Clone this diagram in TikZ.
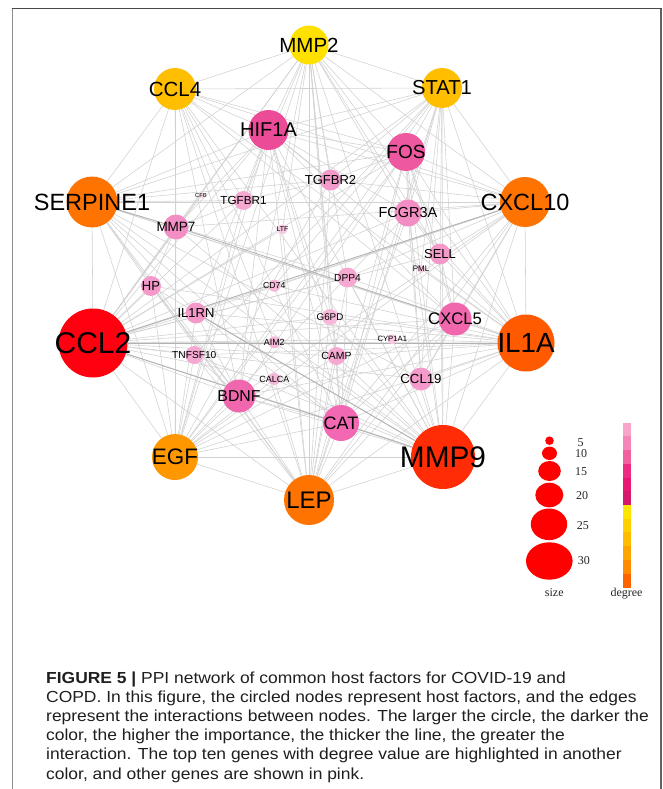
\documentclass[tikz,border=0pt]{standalone}
\usepackage{fontspec}
\setmainfont{Liberation Sans}
\newfontfamily\legendfont{Liberation Serif}
\newfontfamily\capfont{Liberation Sans}[FakeStretch=1.09]
\usetikzlibrary{backgrounds}

% node palette
\definecolor{cMMPtwo}{HTML}{FFE100}
\definecolor{cAmber}{HTML}{FFBE00}
\definecolor{cEGF}{HTML}{FF9800}
\definecolor{cOrange}{HTML}{FF7400}
\definecolor{cILA}{HTML}{FF5A00}
\definecolor{cMMPnine}{HTML}{FF2C05}
\definecolor{cRed}{HTML}{FF0010}
\definecolor{cHIF}{HTML}{EC4C97}
\definecolor{cFOS}{HTML}{EE58A0}
\definecolor{cCAT}{HTML}{F268B2}
\definecolor{cBDNF}{HTML}{F067AE}
\definecolor{cPa}{HTML}{F28EC3}
\definecolor{cPb}{HTML}{F49ACA}
\definecolor{cPc}{HTML}{F5A8D0}
\definecolor{cPd}{HTML}{F5B8D9}
\definecolor{cPe}{HTML}{F7C8E2}
\definecolor{cPf}{HTML}{F8D6E9}
% degree bar palette
\definecolor{barA}{HTML}{F9A5CA}
\definecolor{barB}{HTML}{F685B9}
\definecolor{barC}{HTML}{F2609F}
\definecolor{barD}{HTML}{EE2A82}
\definecolor{barE}{HTML}{EA1674}
\definecolor{barF}{HTML}{D5186A}
\definecolor{barG}{HTML}{FFE600}
\definecolor{barH}{HTML}{FFD000}
\definecolor{barI}{HTML}{FFBC00}
\definecolor{barJ}{HTML}{FFA500}
\definecolor{barK}{HTML}{FF8C00}
\definecolor{barL}{HTML}{FF6400}

\tikzset{
  genenode/.style={circle, draw=none, inner sep=0pt, outer sep=0pt},
  genelabel/.style={inner sep=0pt, text=black},
  link/.style={draw=black!18, line width=0.55pt},
  strong/.style={draw=black!30, line width=0.8pt},
  legendtext/.style={inner sep=0pt, font=\legendfont\fontsize{12}{12}\selectfont, text=black!85},
  captionline/.style={inner sep=0pt, anchor=base west, font=\capfont\fontsize{16}{19}\selectfont, text=black!88},
}

% name, x, y, diameter, fill, font size, text
\newcommand\gene[7]{%
  \node[genenode, fill=#5, minimum size=#4pt,
        label={[genelabel, font=\fontsize{#6}{#6}\selectfont]center:#7}] (#1) at (#2,#3) {};}

\begin{document}
\begin{tikzpicture}[x=1pt, y=-1pt]
\useasboundingbox (0,0) rectangle (663,789);

% ---- genes: hubs (top ten by degree) ----
\gene{MMP2}{309}{45}{39}{cMMPtwo}{20.5}{MMP2}
\gene{CCL4}{175}{89}{42}{cAmber}{20.5}{CCL4}
\gene{STAT1}{442}{88}{40}{cAmber}{20.2}{STAT1}
\gene{SERPINE1}{92}{202}{51}{cOrange}{23.5}{SERPINE1}
\gene{CXCL10}{525}{202}{50}{cOrange}{23.5}{CXCL10}
\gene{CCL2}{93}{343}{69}{cRed}{30}{CCL2}
\gene{IL1A}{526}{343}{57}{cILA}{27.7}{IL1A}
\gene{EGF}{175}{457}{46}{cEGF}{22.4}{EGF}
\gene{MMP9}{443}{457}{64}{cMMPnine}{29.8}{MMP9}
\gene{LEP}{309}{500}{50}{cOrange}{24}{LEP}

% ---- genes: the others ----
\gene{HIF1A}{268.5}{130}{40}{cHIF}{20}{HIF1A}
\gene{FOS}{406}{152}{38}{cFOS}{19}{FOS}
\gene{TGFBR2}{330.5}{180}{21}{cPb}{13}{TGFBR2}
\gene{TGFBR1}{243.5}{200.5}{19}{cPc}{11.7}{TGFBR1}
\gene{CFB}{201}{196}{5}{cPf}{5.8}{CFB}
\gene{FCGR3A}{408}{213}{27}{cPa}{14.5}{FCGR3A}
\gene{MMP7}{176}{227}{25}{cPa}{13.5}{MMP7}
\gene{LTF}{282.5}{229.3}{10}{cPe}{7}{LTF}
\gene{SELL}{440}{254}{21}{cPb}{13}{SELL}
\gene{PML}{421}{269}{8}{cPe}{8}{PML}
\gene{DPP4}{347.5}{277.5}{20}{cPc}{10.2}{DPP4}
\gene{CD74}{274.3}{285.7}{12}{cPd}{8.7}{CD74}
\gene{HP}{151}{286}{20}{cPb}{13}{HP}
\gene{IL1RN}{196}{313}{21}{cPb}{13}{IL1RN}
\gene{G6PD}{330}{317}{16}{cPd}{9.8}{G6PD}
\gene{CXCL5}{455}{319}{33}{cBDNF}{16.7}{CXCL5}
\gene{AIM2}{274.3}{342.3}{12}{cPd}{8.9}{AIM2}
\gene{CYP1A1}{392.3}{339.3}{10}{cPe}{7.7}{CYP1A1}
\gene{TNFSF10}{194.3}{355}{18}{cPc}{10.2}{TNFSF10}
\gene{CAMP}{336.5}{356}{18}{cPc}{10.4}{CAMP}
\gene{CALCA}{274.3}{379}{12}{cPd}{9}{CALCA}
\gene{CCL19}{421}{379}{23}{cPb}{13.2}{CCL19}
\gene{BDNF}{239}{396}{33}{cBDNF}{15.8}{BDNF}
\gene{CAT}{341}{423}{36}{cCAT}{18}{CAT}

% ---- interactions, under the genes ----
\begin{pgfonlayer}{background}
\fill[white] (0,0) rectangle (663,789);
% hub to hub
\foreach \h/\targets in {
  MMP2/{CCL4,STAT1,SERPINE1,CXCL10,CCL2,IL1A,EGF,LEP,MMP9},
  CCL4/{STAT1,SERPINE1,CXCL10,CCL2,IL1A,EGF,LEP,MMP9},
  STAT1/{SERPINE1,CXCL10,CCL2,IL1A,EGF,LEP,MMP9},
  SERPINE1/{CXCL10,CCL2,IL1A,EGF,LEP,MMP9},
  CXCL10/{CCL2,IL1A,EGF,LEP,MMP9},
  CCL2/{IL1A,EGF,LEP,MMP9},
  IL1A/{EGF,LEP,MMP9},
  EGF/{LEP,MMP9},
  LEP/{MMP9}}
  {\foreach \t in \targets {\draw[link] (\h) -- (\t);}}
% hubs to the other genes
\foreach \h/\targets in {
  MMP2/{HIF1A,FOS,CAT,BDNF,FCGR3A,MMP7,SELL,TGFBR2,DPP4,TGFBR1,CAMP,G6PD,LTF},
  CCL4/{HIF1A,FOS,CAT,CXCL5,BDNF,MMP7,TGFBR1,AIM2},
  STAT1/{HIF1A,FOS,CAT,CXCL5,FCGR3A,CCL19,SELL,TGFBR2,TNFSF10,CD74,PML},
  SERPINE1/{HIF1A,FOS,CAT,CXCL5,BDNF,CCL19,TGFBR2,IL1RN,HP,DPP4,TGFBR1},
  CXCL10/{HIF1A,FOS,CAT,CXCL5,BDNF,FCGR3A,MMP7,CCL19,SELL,TGFBR2,IL1RN,DPP4,CD74},
  CCL2/{HIF1A,FOS,CAT,CXCL5,BDNF,FCGR3A,MMP7,CCL19,SELL,IL1RN,HP,DPP4,TGFBR1,TNFSF10,CAMP,G6PD,CD74,AIM2,CALCA,LTF,CYP1A1,CFB},
  IL1A/{HIF1A,FOS,CAT,CXCL5,BDNF,FCGR3A,CCL19,SELL,IL1RN,HP,DPP4,TNFSF10,CAMP,G6PD,CD74,AIM2,CYP1A1,PML},
  EGF/{HIF1A,FOS,CAT,CXCL5,BDNF,FCGR3A,MMP7,TGFBR2,IL1RN,HP,TGFBR1,TNFSF10,CAMP,CALCA},
  LEP/{HIF1A,FOS,CAT,CXCL5,BDNF,FCGR3A,CCL19,TGFBR2,HP,DPP4,TNFSF10,CAMP,G6PD,CALCA,LTF},
  MMP9/{HIF1A,FOS,CAT,CXCL5,BDNF,FCGR3A,MMP7,CCL19,SELL,IL1RN,HP,DPP4,TNFSF10,CAMP,G6PD,AIM2,CALCA,CYP1A1}}
  {\foreach \t in \targets {\draw[link] (\h) -- (\t);}}
% among the other genes
\foreach \h/\targets in {
  HIF1A/{FOS,CAT,BDNF,CXCL5,FCGR3A,MMP7,TGFBR2,TGFBR1,IL1RN,CAMP,G6PD},
  FOS/{CAT,CXCL5,BDNF,FCGR3A,SELL,CCL19,TGFBR2},
  CAT/{BDNF,CXCL5,IL1RN,CAMP,DPP4},
  CXCL5/{CCL19,SELL},
  BDNF/{IL1RN,TNFSF10,HP},
  FCGR3A/{SELL,CCL19},
  MMP7/{TGFBR1,HP},
  TGFBR2/{TGFBR1}}
  {\foreach \t in \targets {\draw[link] (\h) -- (\t);}}
% the heavier interactions
\foreach \a/\b in {SERPINE1/MMP7, MMP7/CXCL5, CXCL10/CCL2, CCL2/MMP9, CCL2/IL1A, IL1RN/MMP9}
  {\draw[strong] (\a) -- (\b);}
\end{pgfonlayer}

% ---- size legend ----
\fill[red] (549.5,440.7) ellipse [x radius=4.3, y radius=4.3];
\fill[red] (549.5,453.3) ellipse [x radius=7.5, y radius=6.7];
\fill[red] (549.5,471) ellipse [x radius=11.3, y radius=10];
\fill[red] (549.3,495) ellipse [x radius=14, y radius=12.3];
\fill[red] (549,524.3) ellipse [x radius=18.2, y radius=15.8];
\fill[red] (549.3,561) ellipse [x radius=23.3, y radius=18.7];
\node[legendtext, anchor=west] (s5) at (577.3,442.3) {5};
\node[legendtext, anchor=west] (s10) at (575,454) {10};
\node[legendtext, anchor=west] (s15) at (575,472) {15};
\node[legendtext, anchor=west] (s20) at (576,495.7) {20};
\node[legendtext, anchor=west] (s25) at (576.7,526) {25};
\node[legendtext, anchor=west] (s30) at (577.7,561) {30};
\node[legendtext] (sizetitle) at (554.3,592.7) {size};

% ---- degree legend ----
\foreach \c [count=\i from 0] in {barA,barB,barC,barD,barE,barF,barG,barH,barI,barJ,barK,barL}
  \fill[\c] (623.3,422.7+\i*13.72) rectangle (630.7,422.7+\i*13.72+13.9);
\node[legendtext] (degreetitle) at (626.5,594) {degree};

% ---- panel frame ----
\draw[black!45, line width=1.6pt] (12.3,789) -- (12.3,8.7);
\draw[black!62, line width=1.4pt] (660.8,8.7) -- (660.8,789);
\draw[black!72, line width=1.6pt] (11.5,8.7) -- (661.5,8.7);

% ---- caption ----
\node[captionline] (cap1) at (46,683) {\textbf{FIGURE 5 |} PPI network of common host factors for COVID-19 and};
\node[captionline] (cap2) at (46,702.2) {COPD. In this figure, the circled nodes represent host factors, and the edges};
\node[captionline] (cap3) at (46,721.4) {represent the interactions between nodes. The larger the circle, the darker the};
\node[captionline] (cap4) at (46,740.6) {color, the higher the importance, the thicker the line, the greater the};
\node[captionline] (cap5) at (46,759.8) {interaction. The top ten genes with degree value are highlighted in another};
\node[captionline] (cap6) at (46,779) {color, and other genes are shown in pink.};
\end{tikzpicture}
\end{document}
